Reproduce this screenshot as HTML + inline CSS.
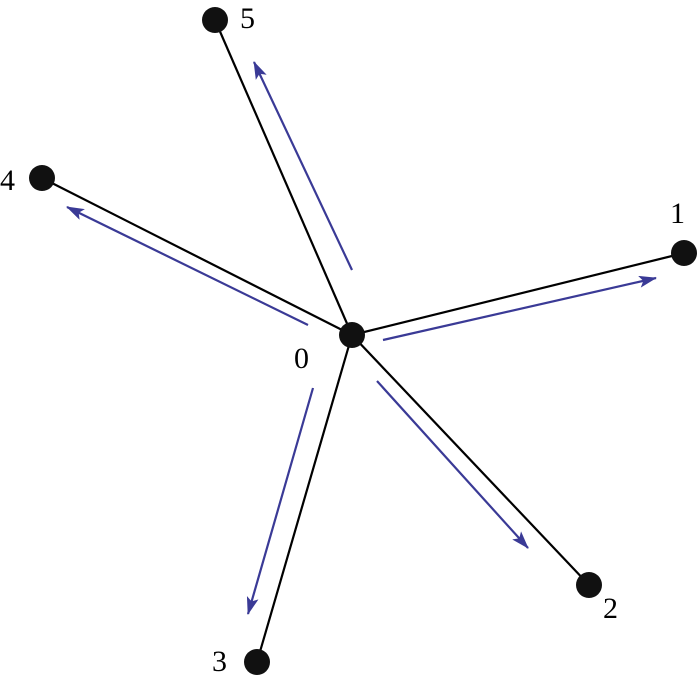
<!DOCTYPE html>
<html><head><meta charset="utf-8"><style>html,body{margin:0;padding:0;background:#fff}
text{font-family:"Liberation Serif","DejaVu Serif",serif;font-size:30px}</style></head>
<body>
<svg width="700" height="679" viewBox="0 0 700 679" xmlns="http://www.w3.org/2000/svg">
<defs>
<marker id="a" markerWidth="18" markerHeight="12" refX="17" refY="6" orient="auto" markerUnits="userSpaceOnUse">
<path d="M0,0 L18,6 L0,12 L4,6 Z" fill="#3a3a96"/>
</marker>
</defs>
<g stroke="#000" stroke-width="2.2">
<line x1="352" y1="335" x2="215" y2="20"/>
<line x1="352" y1="335" x2="42" y2="178"/>
<line x1="352" y1="335" x2="684" y2="253"/>
<line x1="352" y1="335" x2="589" y2="585"/>
<line x1="352" y1="335" x2="257" y2="662"/>
</g>
<g stroke="#3a3a96" stroke-width="2.2" marker-end="url(#a)">
<line x1="352" y1="270" x2="254" y2="62"/>
<line x1="308" y1="325" x2="67" y2="207"/>
<line x1="383" y1="340" x2="656" y2="278"/>
<line x1="377" y1="381" x2="528" y2="548"/>
<line x1="313" y1="388" x2="248" y2="614"/>
</g>
<g fill="#111">
<circle cx="352" cy="335" r="13"/>
<circle cx="215" cy="20" r="13"/>
<circle cx="42" cy="178" r="13"/>
<circle cx="684" cy="253" r="13"/>
<circle cx="589" cy="585" r="13"/>
<circle cx="257" cy="662" r="13"/>
</g>
<g fill="#000">
<text x="240" y="28">5</text>
<text x="0" y="190">4</text>
<text x="670" y="223">1</text>
<text x="294" y="368">0</text>
<text x="603" y="618">2</text>
<text x="212" y="671">3</text>
</g>
</svg>
</body></html>
